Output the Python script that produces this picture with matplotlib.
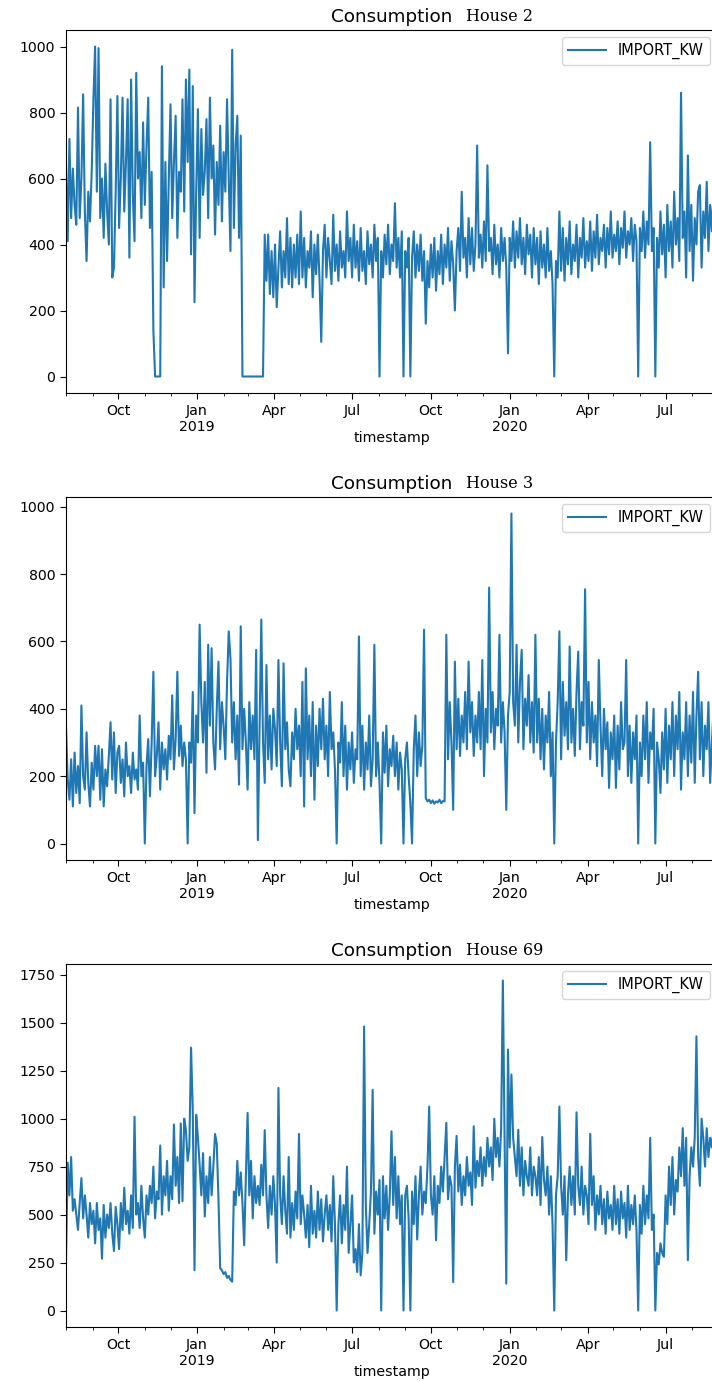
import matplotlib
matplotlib.use("Agg")
import matplotlib.pyplot as plt
import matplotlib.dates as mdates
import matplotlib.transforms as mtransforms
import pandas as pd

# ---------------- data (values read every 2 days from 2018-08-01) ----------------
start_date = "2018-08-01"
step = "2D"
series_label = "IMPORT_KW"
houses = ["House 2", "House 3", "House 69"]

house2 = [
    # Aug 2018
    640, 410, 720, 480, 630, 520, 460, 815, 480, 600, 855, 500, 350, 560, 470, 620,
    # Sep
    840, 1000, 560, 995, 480, 600, 420, 645, 500, 400, 840, 300, 330, 560, 850,
    # Oct
    450, 600, 845, 500, 650, 840, 360, 900, 550, 410, 920, 600, 680, 480, 770,
    # Nov
    520, 700, 845, 450, 620, 140, 0, 0, 0, 0, 940, 270, 650, 350, 600,
    # Dec
    825, 480, 650, 790, 420, 620, 560, 840, 500, 900, 650, 930, 370, 880, 225, 560,
    # Jan 2019
    810, 420, 750, 550, 620, 780, 480, 845, 600, 700, 430, 650, 520, 760, 470,
    # Feb
    680, 560, 840, 600, 380, 990, 450, 700, 790, 420, 730,
    # Feb-Mar gap
    0, 0, 0, 0, 0, 0, 0, 0, 0, 0, 0, 0, 0,
    # late Mar
    430, 290, 430, 250, 380, 240,
    # Apr
    400, 210, 330, 440, 270, 380, 300, 480, 280, 420, 270, 400, 300, 430, 280,
    # May
    500, 300, 420, 270, 380, 330, 440, 240, 400, 310, 430, 290, 105, 380, 460,
    # Jun
    300, 420, 350, 280, 490, 320, 400, 290, 440, 330, 380, 300, 500, 350, 420,
    # Jul
    300, 460, 330, 410, 290, 450, 320, 380, 280, 440, 340, 400, 300, 460, 350, 420,
    # Aug
    0, 380, 300, 430, 340, 460, 310, 400, 350, 525, 330, 420, 300, 440, 0,
    # Sep
    380, 330, 420, 0, 360, 440, 300, 400, 320, 430, 290, 380, 160, 350, 270,
    # Oct
    400, 300, 420, 260, 380, 310, 430, 280, 400, 330, 450, 290, 410, 340, 200, 380,
    # Nov
    450, 320, 560, 360, 420, 300, 480, 340, 450, 320, 400, 700, 360, 430, 330,
    # Dec
    470, 350, 640, 380, 420, 310, 460, 340, 400, 300, 450, 350, 420, 330, 70,
    # Jan 2020
    420, 350, 470, 330, 440, 360, 480, 340, 420, 310, 460, 370, 430, 300, 450, 340,
    # Feb
    420, 280, 440, 330, 400, 300, 450, 320, 380, 280, 0, 350, 300, 500,
    # Mar
    320, 450, 290, 420, 340, 470, 310, 400, 350, 460, 300, 420, 360, 480, 330, 410,
    # Apr
    350, 470, 320, 440, 360, 490, 340, 420, 380, 460, 330, 450, 370, 500, 360,
    # May
    430, 380, 470, 340, 450, 390, 500, 360, 440, 400, 480, 350, 460, 410, 0,
    # Jun
    450, 380, 500, 360, 470, 400, 710, 380, 450, 0, 420, 330, 500, 370, 460,
    # Jul
    300, 520, 380, 470, 330, 560, 400, 480, 350, 860, 420, 500, 300, 670, 380, 520,
    # Aug
    290, 480, 400, 560, 580, 330, 500, 420, 590, 380, 520, 440, 560, 400, 430,
]

house3 = [
    # Aug 2018
    350, 190, 130, 250, 110, 270, 150, 230, 120, 410, 200, 160, 330, 180, 110, 240,
    # Sep
    160, 290, 200, 290, 130, 280, 110, 220, 170, 260, 360, 190, 330, 150, 270,
    # Oct
    290, 180, 250, 140, 300, 200, 230, 150, 270, 190, 220, 160, 380, 200, 240,
    # Nov
    0, 230, 310, 140, 300, 510, 200, 260, 360, 160, 300, 220, 280, 190, 320,
    # Dec
    250, 440, 220, 310, 510, 260, 350, 230, 300, 250, 0, 300, 240, 450, 90, 380,
    # Jan 2019
    300, 650, 420, 300, 480, 210, 590, 350, 580, 300, 220, 400, 540, 280, 420,
    # Feb
    350, 250, 480, 630, 550, 300, 420, 250, 380, 175, 645,
    # late Feb - Mar
    280, 400, 300, 160, 420, 280, 380, 250, 575, 10, 350, 665, 300,
    180, 530, 250, 380, 220, 400,
    # Apr
    340, 230, 545, 300, 170, 535, 280, 360, 220, 170, 330, 250, 400, 280, 350,
    # May
    200, 480, 110, 520, 250, 380, 200, 420, 130, 350, 230, 400, 280, 430, 250,
    # Jun
    350, 200, 450, 280, 330, 220, 0, 300, 240, 420, 200, 350, 160, 300, 220,
    # Jul
    330, 180, 280, 250, 615, 200, 350, 160, 300, 220, 380, 170, 250, 590, 200, 300,
    # Aug
    180, 0, 330, 210, 350, 170, 280, 230, 320, 200, 300, 160, 270, 220, 0,
    # Sep
    250, 300, 200, 120, 0, 280, 380, 200, 330, 230, 290, 635, 135, 125, 130,
    # Oct
    120, 128, 118, 125, 122, 130, 120, 126, 125, 620, 250, 420, 300, 100, 540, 280,
    # Nov
    430, 260, 380, 300, 450, 280, 540, 330, 420, 260, 380, 300, 450, 280, 545,
    # Dec
    200, 400, 300, 760, 330, 450, 280, 400, 350, 620, 300, 420, 330, 100, 380,
    # Jan 2020
    450, 980, 420, 350, 590, 300, 480, 575, 280, 430, 350, 500, 300, 420, 270, 620,
    # Feb
    300, 430, 250, 400, 220, 380, 300, 450, 200, 330, 0, 300, 420, 630,
    # Mar
    250, 480, 320, 420, 280, 585, 300, 400, 260, 450, 570, 280, 420, 350, 755, 300,
    # Apr
    480, 250, 420, 300, 380, 230, 545, 350, 200, 400, 280, 360, 165, 330, 250,
    # May
    380, 165, 350, 220, 420, 280, 300, 545, 200, 350, 180, 330, 250, 380, 0,
    # Jun
    300, 200, 380, 250, 420, 180, 330, 280, 400, 0, 300, 250, 150, 330, 220,
    # Jul
    400, 180, 350, 250, 420, 200, 380, 280, 450, 160, 330, 250, 420, 200, 380, 240,
    # Aug
    450, 180, 380, 510, 250, 420, 200, 350, 280, 420, 180, 300, 400, 250, 350,
]

house69 = [
    # Aug 2018
    260, 770, 600, 800, 520, 580, 500, 420, 560, 690, 480, 600, 500, 380, 560, 450,
    # Sep
    520, 350, 560, 420, 480, 270, 550, 380, 500, 430, 560, 400, 310, 540, 450,
    # Oct
    320, 560, 420, 640, 450, 520, 400, 600, 430, 1010, 500, 560, 430, 650, 480,
    # Nov
    380, 600, 500, 650, 560, 750, 480, 620, 580, 860, 500, 700, 600, 780, 520,
    # Dec
    700, 580, 970, 650, 800, 560, 975, 570, 1000, 940, 780, 850, 1370, 1040, 210, 1020,
    # Jan 2019
    900, 760, 600, 820, 490, 700, 560, 800, 600, 750, 920, 870, 580, 220, 210,
    # Feb
    190, 200, 170, 180, 160, 150, 620, 550, 780, 600, 720,
    # late Feb - Mar
    560, 340, 700, 1030, 600, 780, 480, 700, 560, 650, 550, 760, 600,
    940, 600, 430, 650, 500, 700,
    # Apr
    550, 250, 1160, 600, 450, 700, 520, 400, 800, 380, 560, 420, 620, 480, 920,
    # May
    450, 600, 500, 380, 550, 330, 650, 400, 520, 380, 620, 420, 580, 360, 500,
    # Jun
    600, 420, 550, 360, 700, 450, 0, 450, 600, 350, 550, 420, 750, 300, 450,
    # Jul
    600, 250, 320, 200, 450, 183, 300, 1480, 550, 300, 450, 620, 1150, 400, 620, 500,
    # Aug
    680, 0, 700, 480, 650, 420, 600, 934, 550, 800, 480, 700, 450, 600, 0,
    # Sep
    600, 650, 480, 0, 620, 450, 700, 370, 600, 750, 500, 620, 560, 750, 1063,
    # Oct
    600, 500, 700, 366, 650, 560, 750, 620, 800, 978, 580, 700, 650, 148, 750, 910,
    # Nov
    620, 760, 550, 700, 600, 800, 650, 720, 550, 960, 640, 780, 700, 850, 650,
    # Dec
    800, 700, 900, 750, 850, 680, 1000, 800, 900, 750, 950, 1720, 900, 140, 1360,
    # Jan 2020
    850, 1230, 900, 800, 700, 942, 650, 850, 600, 780, 700, 650, 850, 600, 750, 700,
    # Feb
    600, 800, 550, 904, 680, 600, 750, 500, 700, 450, 0, 600, 700, 1063,
    # Mar
    650, 500, 700, 262, 600, 750, 550, 700, 500, 1033, 650, 550, 750, 500, 650, 600,
    # Apr
    450, 921, 550, 700, 420, 600, 500, 650, 450, 580, 400, 620, 480, 550, 420,
    # May
    650, 450, 580, 400, 620, 480, 560, 380, 650, 420, 550, 450, 600, 420, 0,
    # Jun
    550, 400, 650, 450, 600, 480, 900, 420, 500, 0, 300, 240, 350, 300, 280,
    # Jul
    600, 450, 750, 550, 800, 500, 680, 620, 850, 700, 950, 650, 900, 262, 700, 850,
    # Aug
    750, 900, 1429, 800, 650, 1000, 900, 750, 950, 800, 900, 850, 950, 800, 900,
]

all_series = [house2, house3, house69]

# ---------------- figure ----------------
W, H = 712, 1382
fig = plt.figure(figsize=(W / 100, H / 100), dpi=100)

# axes boxes in pixels: (left, top, right, bottom)
boxes = [(66, 30, 717, 393), (66, 497, 717, 860), (66, 964, 717, 1327)]
color = "#1f77b4"


def fmt_date(x, pos=None):
    d = mdates.num2date(x)
    lab = d.strftime("%b")
    if d.month == 1:
        lab += "\n" + str(d.year)
    return lab


for vals, house, (l, t, r, b) in zip(all_series, houses, boxes):
    ax = fig.add_axes([l / W, 1 - b / H, (r - l) / W, (b - t) / H])
    dates = pd.date_range(start_date, periods=len(vals), freq=step)
    ax.plot(dates, vals, color=color, lw=1.5, label=series_label)
    ax.set_xlim(dates[0], dates[-1])
    ax.xaxis.set_major_locator(mdates.MonthLocator(bymonth=[1, 4, 7, 10]))
    ax.xaxis.set_minor_locator(mdates.MonthLocator())
    ax.xaxis.set_major_formatter(plt.FuncFormatter(fmt_date))
    ax.tick_params(axis="both", which="major", labelsize=10.2, length=4.3)
    ax.tick_params(axis="both", which="minor", length=2.3)
    ax.set_xlabel("timestamp", fontsize=10.2, labelpad=-2)
    ax.legend(loc="upper right", fontsize=10.5, handlelength=2.6)
    ax.set_title("Consumption", fontsize=13.2)
    off = mtransforms.ScaledTranslation(0, 6.2 / 72, fig.dpi_scale_trans)
    ax.text((466 - l) / (r - l), 1.0, house, transform=ax.transAxes + off,
            fontsize=11.5, family="DejaVu Serif", va="baseline", ha="left")

fig.savefig("out.png", dpi=100)
